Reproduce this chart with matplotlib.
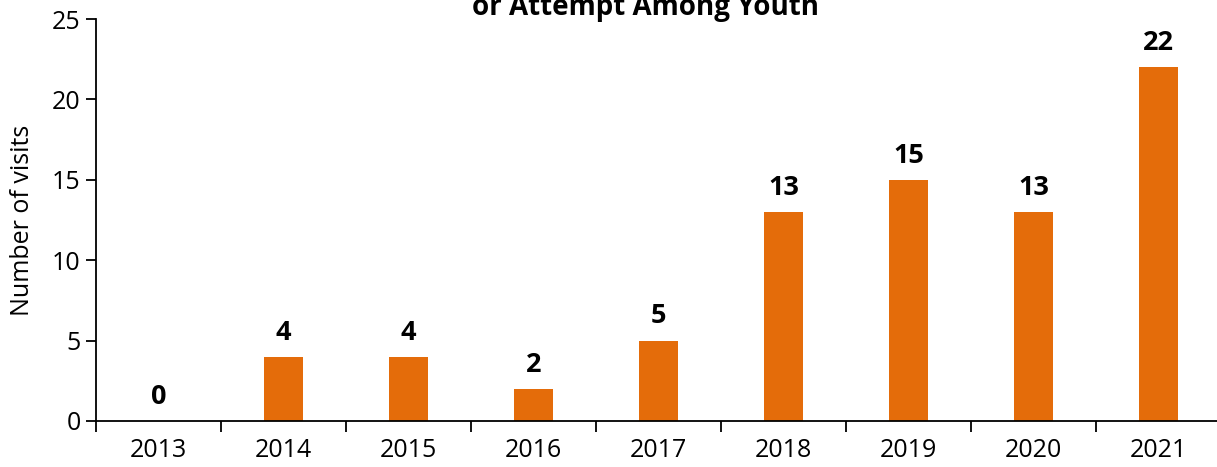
import numpy as np
from matplotlib import pyplot as plt

plt.rcParams.update({
    "font.family": ["Open Sans", "DejaVu Sans"],
    "font.size": 18,
})

years = ["2013", "2014", "2015", "2016", "2017", "2018", "2019", "2020", "2021"]
visits = [0, 4, 4, 2, 5, 13, 15, 13, 22]

W, H = 1217, 467
fig = plt.figure(figsize=(W / 100, H / 100), dpi=100)
ax = fig.add_axes([96 / W, (H - 421) / H, (1221 - 96) / W, (421 - 19) / H])

x = np.arange(len(years))
ax.bar(x, visits, width=0.31, color="#E46C0A", zorder=2)

for xi, v in zip(x, visits):
    ax.annotate(str(v), (xi, v), xytext=(0, 8), textcoords="offset points",
                ha="center", va="bottom", fontsize=19.5, fontweight="bold")

ax.set_xlim(-0.5, len(years) - 0.5)
ax.set_ylim(0, 25)
ax.set_yticks(range(0, 26, 5))
ax.set_xticks(x)
ax.set_xticklabels(years)
ax.tick_params(axis="x", length=0, pad=12)
ax.set_xticks(np.arange(-0.5, len(years)), minor=True)
ax.tick_params(axis="x", which="minor", length=8, width=1.3, direction="out")
ax.tick_params(axis="y", length=7, width=1.3, direction="out", pad=4)
for s in ["top", "right"]:
    ax.spines[s].set_visible(False)
for s in ["left", "bottom"]:
    ax.spines[s].set_linewidth(1.3)
ax.set_ylabel("Number of visits", labelpad=12)

# title is clipped at the top of the image; only its second line shows
fig.text(645 / W, 1 - 15.5 / H, "Suicidal Ideation\nor Attempt Among Youth",
         ha="center", va="baseline", fontsize=20, fontweight="bold",
         linespacing=1.2)

fig.savefig("out.png", dpi=100)
